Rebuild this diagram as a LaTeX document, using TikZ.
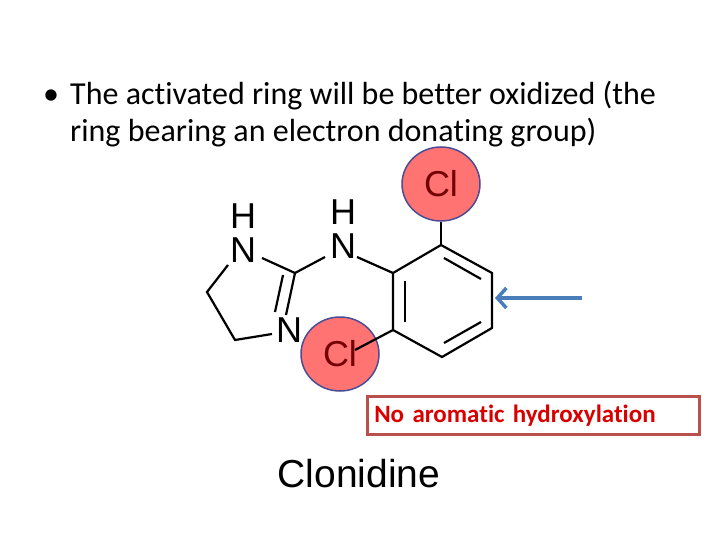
\documentclass[tikz,border=0pt]{standalone}
\usepackage{fontspec}
\usetikzlibrary{shapes.geometric,arrows.meta}
\setmainfont[Ligatures=NoCommon]{Carlito}
\newfontfamily\arial{Liberation Sans}
\begin{document}
\begin{tikzpicture}[x=1pt,y=-1pt,
 bond/.style={line width=2.2pt},
 atom/.style={font=\arial\fontsize{36}{36}\selectfont,inner sep=0pt},
 clcirc/.style={draw=blue!40!black!70,line width=1.5pt,fill=red!55!white,ellipse,minimum width=78pt,minimum height=74pt,inner sep=0pt,text=red!45!black,font=\arial\fontsize{36}{36}\selectfont}]
\useasboundingbox (0,0) rectangle (720,540);
\node[anchor=base west,font=\fontsize{32}{32}\selectfont,inner sep=0pt] (b) at (43,105) {•};
\node[anchor=base west,font=\fontsize{32}{32}\selectfont,inner sep=0pt] (t1) at (70,105) {The activated ring will be better oxidized (the};
\node[anchor=base west,font=\fontsize{32}{32}\selectfont,inner sep=0pt] (t2) at (70,142) {ring bearing an electron donating group)};
% ring
\coordinate (r1) at (441,245); \coordinate (r2) at (492,273); \coordinate (r3) at (492,328);
\coordinate (r4) at (442,357); \coordinate (r5) at (393,330); \coordinate (r6) at (393,273);
\draw[bond] (r1)--(r2)--(r3)--(r4)--(r5)--(r6)--cycle;
\draw[bond] (444,258)--(481,279);
\draw[bond] (481,322)--(444,343);
\draw[bond] (405,281)--(405,322);
% Cl
\node[clcirc] (cl1) at (441,184) {Cl};
\node[clcirc] (cl2) at (340,354) {Cl};
\draw[bond] (r1)--(441,222);
\draw[bond] (r5)--(355,350);
% NH
\node[atom] (n2) at (343,246) {N};
\node[atom] (h2) at (343,212) {H};
\node[atom] (n1) at (243,250) {N};
\node[atom] (h1) at (243,216) {H};
\node[atom] (n3) at (289,330) {N};
\coordinate (c2) at (295,273); \coordinate (c4) at (235,340); \coordinate (c5) at (207,292);
\draw[bond] (357,257)--(r6);
\draw[bond] (325,257)--(c2);
\draw[bond] (262,258)--(c2);
\draw[bond] (c2)--(286,315);
\draw[bond] (283,275)--(275,312);
\draw[bond] (272,334)--(c4)--(c5)--(228,265);
% arrow
\coordinate (a1) at (582,298); \coordinate (a2) at (495,298);
\draw[line width=3.5pt,color={rgb,255:red,74;green,126;blue,187},-{Straight Barb[length=9pt,width=20pt]}] (a1)--(a2);
% box
\node[draw={rgb,255:red,185;green,80;blue,77},line width=2.5pt,minimum width=332pt,minimum height=38pt,text=red!85!black,font=\bfseries\fontsize{25}{25}\selectfont,anchor=north west,inner xsep=6pt,text width=318pt,align=left] (box) at (366,395) {No aromatic hydroxylation};
\node[font=\arial\fontsize{39}{39}\selectfont] (nm) at (359,474) {Clonidine};
\end{tikzpicture}
\end{document}
